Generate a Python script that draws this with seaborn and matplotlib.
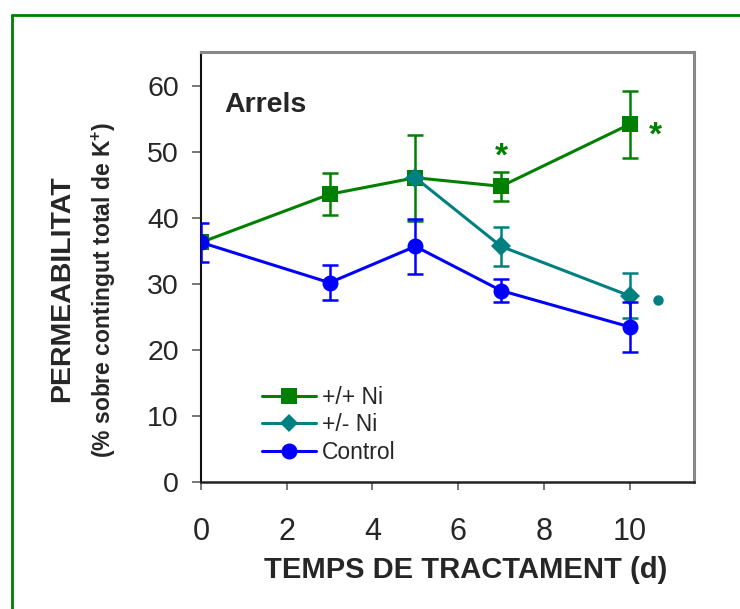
import numpy as np
import pandas as pd
import matplotlib
matplotlib.use("Agg")
import matplotlib.pyplot as plt
import seaborn as sns
from matplotlib.lines import Line2D

# ---------------- data ----------------
series_names = ["+/+ Ni", "+/- Ni", "Control"]

days_pp = [0, 3, 5, 7, 10]
perm_pp = [36.3, 43.6, 46.1, 44.8, 54.2]
err_pp = [np.nan, 3.2, 6.5, 2.2, 5.1]

days_pm = [5, 7, 10]
perm_pm = [46.1, 35.7, 28.2]
err_pm = [np.nan, 3.0, 3.4]

days_ct = [0, 3, 5, 7, 10]
perm_ct = [36.3, 30.2, 35.7, 29.0, 23.5]
err_ct = [2.9, 2.7, 4.2, 1.7, 3.8]

star_x = [7, 10.6]
star_y = [50.1, 53.4]
dot_x = [10.67]
dot_y = [27.6]

x_ticks = [0, 2, 4, 6, 8, 10]
y_ticks = [0, 10, 20, 30, 40, 50, 60]

colors = ["#008000", "#008080", "#0000FF"]
markers = ["s", "D", "o"]
msizes = [11.5, 10.0, 11.5]

# ---------------- style ----------------
sns.set_style("ticks")
plt.rcParams["font.family"] = ["Liberation Sans", "DejaVu Sans"]
plt.rcParams["mathtext.fontset"] = "custom"
plt.rcParams["mathtext.rm"] = "Liberation Sans"
plt.rcParams["mathtext.bf"] = "Liberation Sans:bold"

fig = plt.figure(figsize=(7.4, 6.09), dpi=100)
ax = fig.add_axes([201 / 740, 1 - 482 / 609, 493 / 740, 430 / 609])

frames = []
for name, d, p in zip(series_names, [days_pp, days_pm, days_ct], [perm_pp, perm_pm, perm_ct]):
    frames.append(pd.DataFrame({"day": d, "perm": p, "series": name}))
df = pd.concat(frames, ignore_index=True)

errs = [err_pp, err_pm, err_ct]
handles = []
for i, name in enumerate(series_names):
    sub = df[df["series"] == name]
    ax.errorbar(sub["day"], sub["perm"], yerr=errs[i], fmt="none",
                ecolor=colors[i], elinewidth=1.8, capsize=5.6, capthick=1.8,
                zorder=2 + 2 * i)
    sns.lineplot(data=sub, x="day", y="perm", ax=ax, color=colors[i],
                 marker=markers[i], markersize=msizes[i], markeredgewidth=0,
                 linewidth=2.2, errorbar=None, sort=False, legend=False,
                 zorder=3 + 2 * i)
    handles.append(Line2D([], [], color=colors[i], marker=markers[i],
                          markersize=msizes[i] * (0.95 if i == 1 else 1.0),
                          markeredgewidth=0, linewidth=2.2, label=name))

# significance marks
for sx, sy in zip(star_x, star_y):
    ax.text(sx, sy - 2.2, "*", color="#008000", fontsize=24, fontweight="bold",
            ha="center", va="baseline", zorder=10)
ax.plot(dot_x, dot_y, linestyle="none", marker="o", color="#008080",
        markersize=7.5, markeredgewidth=0, zorder=10)

ax.text(0.048, 0.861, "Arrels", transform=ax.transAxes, fontsize=20.5,
        fontweight="bold", ha="left", va="baseline")

leg = ax.legend(handles=handles, loc="center left", bbox_to_anchor=(0.1237, 0.1326),
                frameon=False, fontsize=16.5, handlelength=2.36, handletextpad=0.26,
                labelspacing=0.2, borderpad=0, borderaxespad=0)

ax.set_xlim(0, 11.5)
ax.set_ylim(0, 65.15)
ax.set_xticks(x_ticks)
ax.set_yticks(y_ticks)
ax.set_xlabel("")
ax.set_ylabel("")

ax.set_xticklabels([str(t) for t in x_ticks], fontsize=22)
ax.set_yticklabels([str(t) for t in y_ticks], fontsize=20.5)

ax.tick_params(axis="y", direction="out", length=6.5, width=1.2, color="#606060", pad=9.5)
ax.tick_params(axis="x", direction="out", length=6, width=1.2, color="#606060", pad=19)

for s in ["top", "right"]:
    ax.spines[s].set_color("#888888")
    ax.spines[s].set_linewidth(2.2)
ax.spines["left"].set_color("#111111")
ax.spines["left"].set_linewidth(1.5)
ax.spines["bottom"].set_color("#222222")
ax.spines["bottom"].set_linewidth(1.8)

# axis titles
fig.text(466 / 740, 1 - 570 / 609, "TEMPS DE TRACTAMENT (d)", fontsize=21,
         fontweight="bold", ha="center", va="center")
fig.text(62.5 / 740, 1 - 289 / 609, "PERMEABILITAT", fontsize=20.5,
         fontweight="bold", ha="center", va="center", rotation=90)
fig.text(104 / 740, 1 - 290 / 609, r"(% sobre contingut total de K$^{\mathbf{+}}$)",
         fontsize=16.5, fontweight="bold", ha="center", va="center", rotation=90)

# outer green frame (left and top edges)
fig.add_artist(Line2D([12 / 740, 12 / 740], [0, 1 - 15 / 609], transform=fig.transFigure,
                      color="#008000", linewidth=2))
fig.add_artist(Line2D([12 / 740, 1], [1 - 15 / 609, 1 - 15 / 609], transform=fig.transFigure,
                      color="#008000", linewidth=2))

fig.savefig("out.png", dpi=100)
